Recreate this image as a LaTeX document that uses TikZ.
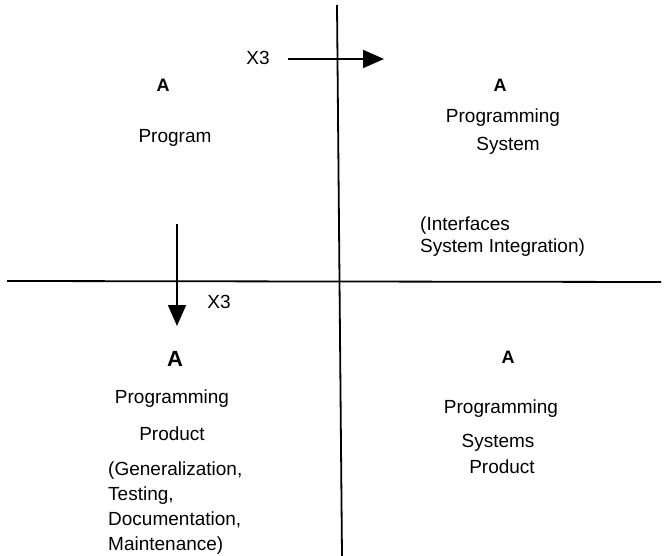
\documentclass[tikz,border=0pt]{standalone}
\usepackage{fontspec}
\setmainfont{Liberation Sans}
\usetikzlibrary{arrows.meta}
\begin{document}
\begin{tikzpicture}[x=1pt,y=-1pt,
  lbl/.style={inner sep=0pt,anchor=base,font=\fontsize{19}{25}\selectfont},
  lbll/.style={lbl,anchor=base west},
  biga/.style={inner sep=0pt,anchor=base,font=\fontsize{18}{22}\selectfont\bfseries},
  axis/.style={line width=1.8pt},
  arr/.style={line width=1.8pt,-{Triangle[length=21pt,width=18pt]}}]
\useasboundingbox (0,0) rectangle (664,556);
% axes
\coordinate (vt) at (337,5);
\coordinate (vb) at (342,556);
\coordinate (hl) at (7,281);
\coordinate (hr) at (661,282);
\draw[axis] (vt) -- (vb);
\draw[axis] (hl) -- (hr);
% arrows
\coordinate (a1s) at (288,59);
\coordinate (a1e) at (384,59);
\draw[arr] (a1s) -- (a1e);
\coordinate (a2s) at (177,224);
\coordinate (a2e) at (177,326);
\draw[arr] (a2s) -- (a2e);
\node[lbl] (x3a) at (258,65) {X3};
\node[lbl] (x3b) at (219,308) {X3};
% top-left
\node[biga] (tla) at (163,92) {A};
\node[lbl] (tlp) at (175,143) {Program};
% top-right
\node[biga] (tra) at (500,92) {A};
\node[lbl] (trp) at (503,123) {Programming};
\node[lbl] (trs) at (508,151) {System};
\node[lbll] (tri) at (420,230) {(Interfaces};
\node[lbll] (trs2) at (420,253) {System Integration)};
% bottom-left
\node[inner sep=0pt,anchor=base,font=\fontsize{22}{26}\selectfont\bfseries] (bla) at (175,366) {A};
\node[lbl] (blp) at (172,403) {Programming};
\node[lbl] (blq) at (172,440) {Product};
\node[lbll] (bl1) at (108,475) {(Generalization,};
\node[lbll] (bl2) at (108,500) {Testing,};
\node[lbll] (bl3) at (108,525) {Documentation,};
\node[lbll] (bl4) at (108,550) {Maintenance)};
% bottom-right
\node[biga] (bra) at (508,363) {A};
\node[lbl] (brp) at (501,413) {Programming};
\node[lbl] (brs) at (498,447) {Systems};
\node[lbl] (brq) at (502,473) {Product};
\end{tikzpicture}
\end{document}
